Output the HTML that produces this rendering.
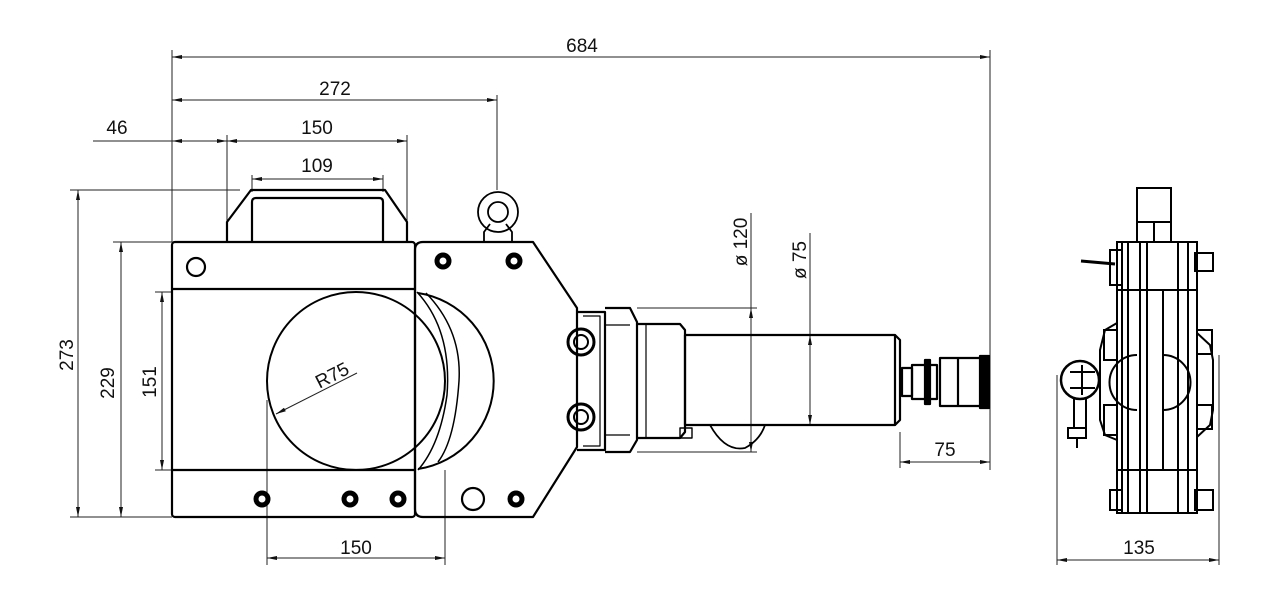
<!DOCTYPE html>
<html><head><meta charset="utf-8"><style>
html,body{margin:0;padding:0;background:#fff;width:1280px;height:596px;overflow:hidden}
svg{display:block}
text{font-family:"Liberation Sans",Arial,sans-serif;font-size:19px;fill:#111}
</style></head><body>
<svg width="1280" height="596" viewBox="0 0 1280 596" xmlns="http://www.w3.org/2000/svg">
<defs>
<marker id="a" viewBox="0 0 10 4" refX="10" refY="2" markerWidth="10" markerHeight="4" orient="auto-start-reverse" markerUnits="userSpaceOnUse"><path d="M10,2 L0,0 L0,4 z" fill="#111"/></marker>
</defs>
<g stroke="#222" stroke-width="1" fill="none">
<line x1="172" y1="50" x2="172" y2="242"/>
<line x1="990" y1="50" x2="990" y2="470"/>
<line x1="497" y1="95" x2="497" y2="190"/>
<line x1="227" y1="135" x2="227" y2="222"/>
<line x1="407" y1="135" x2="407" y2="222"/>
<line x1="252" y1="175" x2="252" y2="192"/>
<line x1="383" y1="175" x2="383" y2="192"/>
<line x1="70" y1="190" x2="240" y2="190"/>
<line x1="113" y1="242" x2="172" y2="242"/>
<line x1="155" y1="292" x2="172" y2="292"/>
<line x1="155" y1="470" x2="172" y2="470"/>
<line x1="70" y1="517" x2="172" y2="517"/>
<line x1="267" y1="400" x2="267" y2="565"/>
<line x1="445" y1="470" x2="445" y2="565"/>
<line x1="637" y1="308" x2="757" y2="308"/>
<line x1="637" y1="452" x2="757" y2="452"/>
<line x1="751" y1="213" x2="751" y2="308"/>
<line x1="810" y1="233" x2="810" y2="335"/>
<line x1="900" y1="432" x2="900" y2="468"/>
<line x1="1057" y1="375" x2="1057" y2="565"/>
<line x1="1219" y1="355" x2="1219" y2="565"/>
<line x1="172" y1="57" x2="990" y2="57" marker-start="url(#a)" marker-end="url(#a)"/>
<line x1="172" y1="100" x2="497" y2="100" marker-start="url(#a)" marker-end="url(#a)"/>
<line x1="93" y1="141" x2="172" y2="141"/>
<line x1="172" y1="141" x2="227" y2="141" marker-start="url(#a)" marker-end="url(#a)"/>
<line x1="227" y1="141" x2="407" y2="141" marker-start="url(#a)" marker-end="url(#a)"/>
<line x1="252" y1="179" x2="383" y2="179" marker-start="url(#a)" marker-end="url(#a)"/>
<line x1="78" y1="190" x2="78" y2="517" marker-start="url(#a)" marker-end="url(#a)"/>
<line x1="121" y1="242" x2="121" y2="517" marker-start="url(#a)" marker-end="url(#a)"/>
<line x1="162" y1="292" x2="162" y2="470" marker-start="url(#a)" marker-end="url(#a)"/>
<line x1="267" y1="558" x2="445" y2="558" marker-start="url(#a)" marker-end="url(#a)"/>
<line x1="751" y1="308" x2="751" y2="452" marker-start="url(#a)" marker-end="url(#a)"/>
<line x1="810" y1="335" x2="810" y2="425" marker-start="url(#a)" marker-end="url(#a)"/>
<line x1="900" y1="462" x2="990" y2="462" marker-start="url(#a)" marker-end="url(#a)"/>
<line x1="1057" y1="560" x2="1219" y2="560" marker-start="url(#a)" marker-end="url(#a)"/>
<line x1="276" y1="414" x2="357" y2="373" marker-start="url(#a)"/>
</g>
<g stroke="#000" stroke-width="2.2" fill="none" stroke-linejoin="round">
<path d="M227,242 L227,222 L251,190 L385,190 L407,222 L407,242"/>
<path d="M252,242 L252,202 Q252,198 256,198 L379,198 Q383,198 383,202 L383,242"/>
<circle cx="498" cy="212" r="20" stroke-width="1.8"/>
<circle cx="498" cy="212" r="10" stroke-width="1.8"/>
<path d="M484,242 L484,232 L490,224 M512,242 L512,232 L506,224" stroke-width="1.8"/>
<rect x="172" y="242" width="243" height="275" rx="3"/>
<line x1="172" y1="289" x2="415" y2="289"/>
<line x1="172" y1="470" x2="415" y2="470"/>
<path d="M415,250 Q415,242 423,242 L533,242 L577,308 L577,447 L533,517 L423,517 Q415,517 415,509 Z"/>
<circle cx="356" cy="381" r="89" stroke-width="2"/>
<path d="M418,293 A89,89 0 0 1 418,469" stroke-width="2"/>
<path d="M417,292 Q452,330 447,395 Q440,445 418,470" stroke-width="1.5"/>
<path d="M426,293 Q462,330 459,381 Q455,440 438,462" stroke-width="1.5"/>
<path d="M577,312 L605,312 L605,450 L577,450"/>
<path d="M583,316 L600,316 L600,446 L583,446" stroke-width="1.2"/>
<path d="M605,308 L630,308 L637,322 L637,440 L630,452 L605,452"/>
<path d="M605,325 L630,325 M605,435 L630,435" stroke-width="1.2"/>
<path d="M637,324 L680,324 L685,330 L685,432 L680,438 L637,438"/>
<path d="M646,324 L646,438" stroke-width="1.2"/>
<rect x="685" y="335" width="210" height="90"/>
<path d="M895,335 L900,340 L900,420 L895,425"/>
<path d="M710,425 Q725,452 745,448 Q760,440 765,425" stroke-width="1.8"/>
<rect x="680" y="428" width="12" height="10" stroke-width="1.4"/>
<rect x="902" y="368" width="10" height="28"/>
<rect x="912" y="365" width="25" height="34"/>
<rect x="925" y="360" width="5" height="44" fill="#000"/>
<rect x="940" y="358" width="45" height="48"/>
<line x1="958" y1="358" x2="958" y2="406"/>
<rect x="980" y="356" width="9" height="52" fill="#000"/>
</g>
<g stroke="#000" fill="none">
<circle cx="196" cy="267" r="9" stroke-width="2.2"/>
<circle cx="473" cy="499" r="11" stroke-width="2.2"/>
<g stroke-width="5">
<circle cx="443" cy="261" r="6"/><circle cx="514" cy="261" r="6"/>
<circle cx="262" cy="499" r="6"/><circle cx="350" cy="499" r="6"/><circle cx="398" cy="499" r="6"/><circle cx="516" cy="499" r="6"/>
</g>
<g stroke-width="3"><circle cx="581" cy="342" r="13"/><circle cx="581" cy="417" r="13"/></g>
<g stroke-width="2"><circle cx="581" cy="342" r="7"/><circle cx="581" cy="417" r="7"/></g>
</g>
<g stroke="#000" stroke-width="2" fill="none">
<rect x="1137" y="188" width="34" height="54"/>
<line x1="1137" y1="222" x2="1171" y2="222"/><line x1="1154" y1="222" x2="1154" y2="242"/>
<rect x="1117" y="242" width="80" height="271"/>
<line x1="1122" y1="242" x2="1122" y2="513"/>
<line x1="1128" y1="242" x2="1128" y2="513"/>
<line x1="1140" y1="242" x2="1140" y2="513"/>
<line x1="1147" y1="242" x2="1147" y2="513"/>
<line x1="1163" y1="290" x2="1163" y2="470"/>
<line x1="1178" y1="242" x2="1178" y2="513"/>
<line x1="1188" y1="242" x2="1188" y2="513"/>
<line x1="1117" y1="290" x2="1197" y2="290"/>
<line x1="1117" y1="470" x2="1197" y2="470"/>
<rect x="1110" y="250" width="12" height="35"/>
<rect x="1110" y="490" width="12" height="20"/>
<rect x="1195" y="253" width="18" height="18"/>
<rect x="1195" y="490" width="18" height="20"/>
<path d="M1117,323 L1105,330 L1100,350 L1100,420 L1105,435 L1117,440"/>
<rect x="1104" y="330" width="13" height="30"/><rect x="1104" y="405" width="13" height="30"/>
<path d="M1197,333 L1210,345 L1213,360 L1213,410 L1210,425 L1197,437"/>
<rect x="1197" y="330" width="15" height="24"/><rect x="1197" y="405" width="15" height="24"/>
<path d="M1137,355 A25,25 0 0 0 1137,410 M1163,355 A25,25 0 0 1 1163,410"/>
<circle cx="1080" cy="380" r="19" stroke-width="2.5"/>
<path d="M1070,372 L1095,372 M1070,388 L1095,388 M1082,365 L1082,395"/>
<path d="M1074,398 L1074,428 M1086,398 L1086,428"/>
<rect x="1068" y="428" width="18" height="10"/>
<line x1="1077" y1="438" x2="1077" y2="448"/>
<line x1="1081" y1="261" x2="1115" y2="264" stroke-width="3"/>
</g>
<text x="582" y="52" text-anchor="middle">684</text>
<text x="335" y="95" text-anchor="middle">272</text>
<text x="117" y="134" text-anchor="middle">46</text>
<text x="317" y="134" text-anchor="middle">150</text>
<text x="317" y="172" text-anchor="middle">109</text>
<text x="356" y="554" text-anchor="middle">150</text>
<text x="945" y="456" text-anchor="middle">75</text>
<text x="1139" y="554" text-anchor="middle">135</text>
<text transform="translate(335,381) rotate(-27)" text-anchor="middle">R75</text>
<text transform="translate(73,355) rotate(-90)" text-anchor="middle">273</text>
<text transform="translate(114,383) rotate(-90)" text-anchor="middle">229</text>
<text transform="translate(156,382) rotate(-90)" text-anchor="middle">151</text>
<text transform="translate(747,242) rotate(-90)" text-anchor="middle">ø 120</text>
<text transform="translate(806,260) rotate(-90)" text-anchor="middle">ø 75</text>
</svg>
</body></html>
